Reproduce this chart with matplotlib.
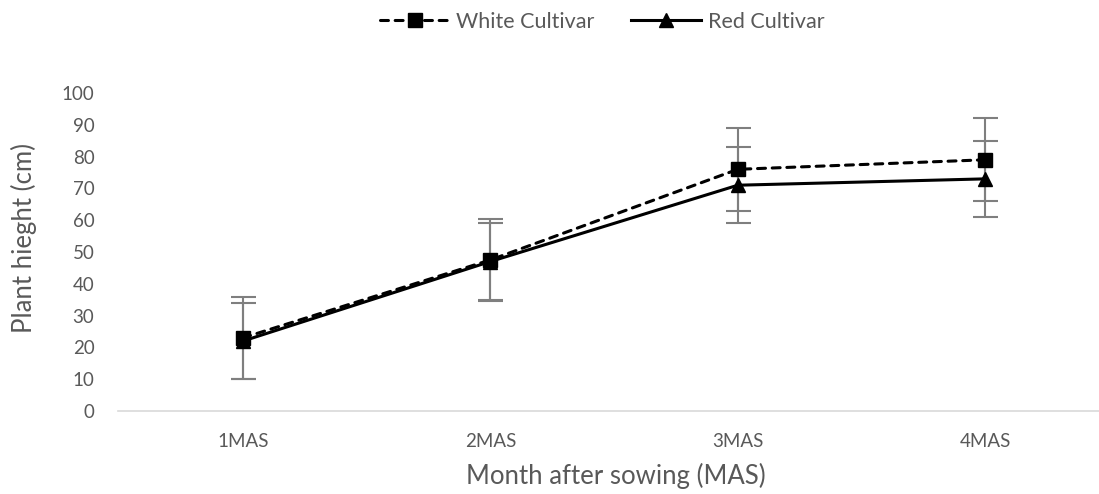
import matplotlib
matplotlib.use("Agg")
import matplotlib.pyplot as plt
import numpy as np

# plant height per month after sowing, with error (cm)
months = ["1MAS", "2MAS", "3MAS", "4MAS"]
white = [23, 47.5, 76, 79]
white_err = [13, 13, 13, 13]
red = [22, 47, 71, 73]
red_err = [12, 12, 12, 12]

plt.rcParams['font.family'] = ['Lato', 'DejaVu Sans']
text_color = '#595959'

W, H = 1099, 494
fig = plt.figure(figsize=(W / 100, H / 100), dpi=100)
ax = fig.add_axes([118 / W, 1 - 411 / H, 1 - 118 / W, (411 - 93) / H])

x = np.arange(len(months))

ax.errorbar(x, white, yerr=white_err, fmt='none', ecolor='#7f7f7f',
            elinewidth=1.5, capsize=9, capthick=1.5, zorder=1)
ax.errorbar(x, red, yerr=red_err, fmt='none', ecolor='#7f7f7f',
            elinewidth=1.5, capsize=9, capthick=1.5, zorder=1)

ax.plot(x, white, color='black', linestyle=(0, (2.6, 2.2)), linewidth=2.2,
        dash_capstyle='round', marker='s', markersize=10,
        label='White Cultivar', zorder=3)
ax.plot(x, red, color='black', linestyle='-', linewidth=2.2,
        marker='^', markersize=10, label='Red Cultivar', zorder=3)

ax.set_xlim(-0.505, 3.46)
ax.set_ylim(0, 100)
ax.set_yticks(np.arange(0, 101, 10))
ax.set_xticks(x)
ax.set_xticklabels(months)

for side in ['top', 'right', 'left']:
    ax.spines[side].set_visible(False)
ax.spines['bottom'].set_color('#d9d9d9')
ax.spines['bottom'].set_linewidth(1.2)
ax.tick_params(axis='both', length=0, labelsize=13.5, colors=text_color)
ax.tick_params(axis='y', pad=17)
ax.tick_params(axis='x', pad=16)

# axis titles placed in figure pixels
ax.set_ylabel('Plant hieght (cm)', fontsize=18.5, color=text_color)
ax.yaxis.set_label_coords(24 / W, 1 - 238 / H, transform=fig.transFigure)
ax.set_xlabel('Month after sowing (MAS)', fontsize=18.5, color=text_color)
ax.xaxis.set_label_coords(616 / W, 1 - 476 / H, transform=fig.transFigure)
ax.yaxis.label.set_va('center')
ax.xaxis.label.set_va('center')

leg = fig.legend(loc='center', bbox_to_anchor=(602 / W, 1 - 22 / H), ncol=2,
                 frameon=False, fontsize=15.5, handlelength=3.25, columnspacing=1.7,
                 handletextpad=0.3)
for t in leg.get_texts():
    t.set_color(text_color)

fig.savefig('out.png', dpi=100)
